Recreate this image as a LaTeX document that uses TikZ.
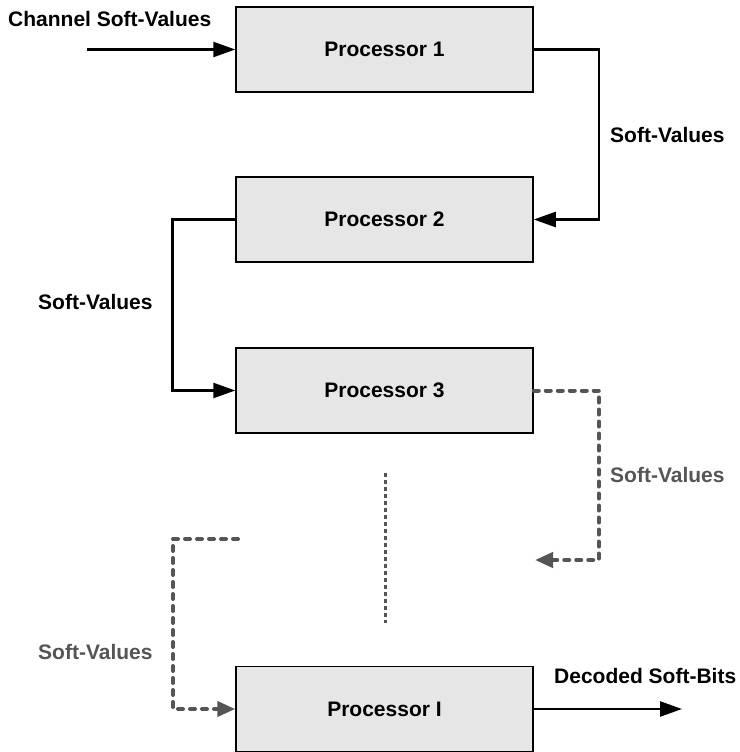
\documentclass[tikz,border=0pt]{standalone}
\usepackage{fontspec}
\setmainfont{Liberation Sans}
\usetikzlibrary{arrows.meta}
\definecolor{boxgray}{HTML}{E6E6E6}
\definecolor{linkgray}{HTML}{555555}

\begin{document}
\begin{tikzpicture}[x=1pt,y=-1pt,
  procbox/.style={draw=black, line width=1.5pt, fill=boxgray, minimum width=297pt,
    minimum height=85pt, inner sep=0pt, font=\fontsize{21}{24}\selectfont\bfseries},
  lbl/.style={font=\fontsize{21}{24}\selectfont\bfseries, inner sep=0pt, anchor=west},
  link/.style={line width=2.5pt, -{Triangle[length=22pt,width=15pt]}},
  dlink/.style={line width=4pt, linkgray, dash pattern=on 5pt off 7pt, line cap=round,
    -{Triangle[length=18pt,width=15pt]}},
  vdots/.style={line width=3pt, linkgray, dash pattern=on 4pt off 3pt}
]
\useasboundingbox (0,0) rectangle (739,752);

% processors
\node[procbox] (p1) at (384.5,49.5) {Processor 1};
\node[procbox] (p2) at (384.5,219.5) {Processor 2};
\node[procbox] (p3) at (384.5,390.5) {Processor 3};
\node[procbox] (pI) at (384.5,709) {Processor I};

% free ends
\coordinate (chin) at (87,49.5);
\coordinate (d3end) at (535,560);
\coordinate (dIstart) at (238,539);
\coordinate (vdtop) at (385,473);
\coordinate (vdbot) at (385,623);
\coordinate (out) at (682,709);

% connectors
\draw[link] (chin) -- (p1.west);
\draw[link] (p1.east) -- ++(65,0) |- (p2.east);
\draw[link] (p2.west) -- ++(-63,0) |- (p3.west);
\draw[dlink] (p3.east) -- ++(65,0) |- (d3end);
\draw[dlink] (dIstart) -- ++(-65,0) |- (pI.west);
\draw[vdots] (vdtop) -- (vdbot);
\draw[link] (pI.east) -- (out);

% labels
\node[lbl] (lch) at (8,18.5) {Channel Soft-Values};
\node[lbl] (l12) at (610,135) {Soft-Values};
\node[lbl] (l23) at (38,302) {Soft-Values};
\node[lbl, text=linkgray] (l3x) at (610,474.5) {Soft-Values};
\node[lbl, text=linkgray] (lxI) at (38,652) {Soft-Values};
\node[lbl] (lout) at (554,676) {Decoded Soft-Bits};
\end{tikzpicture}
\end{document}
